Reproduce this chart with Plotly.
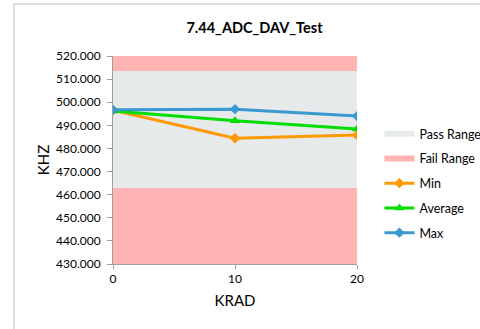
import plotly.graph_objects as go

krad = [0, 10, 20]
min_vals = [496.5, 484.4, 485.8]
avg_vals = [496.2, 492.0, 488.4]
max_vals = [496.7, 497.0, 494.0]
pass_low = 463.0
pass_high = 513.5
y_top = 520.0
y_ticks = [430, 440, 450, 460, 470, 480, 490, 500, 510, 520]

FONT = "Lato, Carlito, 'Open Sans', sans-serif"
fail_color = "#FFB3B3"
pass_color = "#E6EAEA"

fig = go.Figure()
# stacked areas: fail (low), pass, fail (high)
fig.add_trace(go.Scatter(x=krad, y=[pass_low] * 3, stackgroup="bands", mode="none",
                         fillcolor=fail_color, name="Fail Range", showlegend=False,
                         hoverinfo="skip"))
fig.add_trace(go.Scatter(x=krad, y=[pass_high - pass_low] * 3, stackgroup="bands", mode="none",
                         fillcolor=pass_color, name="Pass Range", legendrank=1, legendgroup="a",
                         hoverinfo="skip"))
fig.add_trace(go.Scatter(x=krad, y=[y_top - pass_high] * 3, stackgroup="bands", mode="none",
                         fillcolor=fail_color, name="Fail Range", legendrank=2, legendgroup="b",
                         hoverinfo="skip"))

fig.add_trace(go.Scatter(x=krad, y=min_vals, name="Min", mode="lines+markers", legendrank=3,
                         legendgroup="c",
                         line=dict(color="#FF9900", width=3),
                         marker=dict(symbol="diamond", size=8, color="#FF9900")))
fig.add_trace(go.Scatter(x=krad, y=avg_vals, name="Average", mode="lines+markers", legendrank=4,
                         legendgroup="d",
                         line=dict(color="#00DD00", width=3),
                         marker=dict(symbol="triangle-up", size=9, color="#00DD00")))
fig.add_trace(go.Scatter(x=krad, y=max_vals, name="Max", mode="lines+markers", legendrank=5,
                         legendgroup="e",
                         line=dict(color="#3A9AD0", width=3),
                         marker=dict(symbol="diamond", size=8, color="#3A9AD0")))

fig.update_layout(
    width=480, height=329,
    margin=dict(l=113, r=123, t=56, b=65, autoexpand=False),
    paper_bgcolor="white", plot_bgcolor="white",
    font=dict(family=FONT, size=12, color="#000000"),
    title=dict(text="<b>7.44_ADC_DAV_Test</b>", xref="paper", x=0.58, xanchor="center",
               y=0.915, yanchor="middle", font=dict(size=14.5, family=FONT)),
    xaxis=dict(range=[0, 20], tickvals=krad, ticktext=[str(k) for k in krad], automargin=False,
               showgrid=False, zeroline=False, showline=True, linecolor="#A0A0A0", linewidth=1,
               ticks="outside", ticklen=4, tickcolor="#A0A0A0",
               title=dict(text="KRAD", font=dict(size=15), standoff=10)),
    yaxis=dict(range=[430, 520], tickvals=y_ticks, tickformat=".3f", automargin=False,
               showgrid=False, zeroline=False, showline=True, linecolor="#A0A0A0", linewidth=1,
               ticks="outside", ticklen=5, tickcolor="#A0A0A0", ticklabelstandoff=4,
               title=dict(text="KHZ", font=dict(size=15), standoff=2)),
    legend=dict(x=1.092, y=0.697, xanchor="left", yanchor="top", bgcolor="rgba(0,0,0,0)",
                font=dict(size=12.5), tracegroupgap=5.5, itemwidth=30, traceorder="grouped"),
    showlegend=True,
    shapes=[dict(type="rect", xref="paper", yref="paper", x0=-0.406, y0=-1.0, x1=2.0, y1=1.25,
                 line=dict(color="#BFBFBF", width=1), fillcolor="rgba(0,0,0,0)", layer="below")],
)

fig.write_html("out.html", config={"displayModeBar": False},
               post_script="document.body.style.margin='0';")
